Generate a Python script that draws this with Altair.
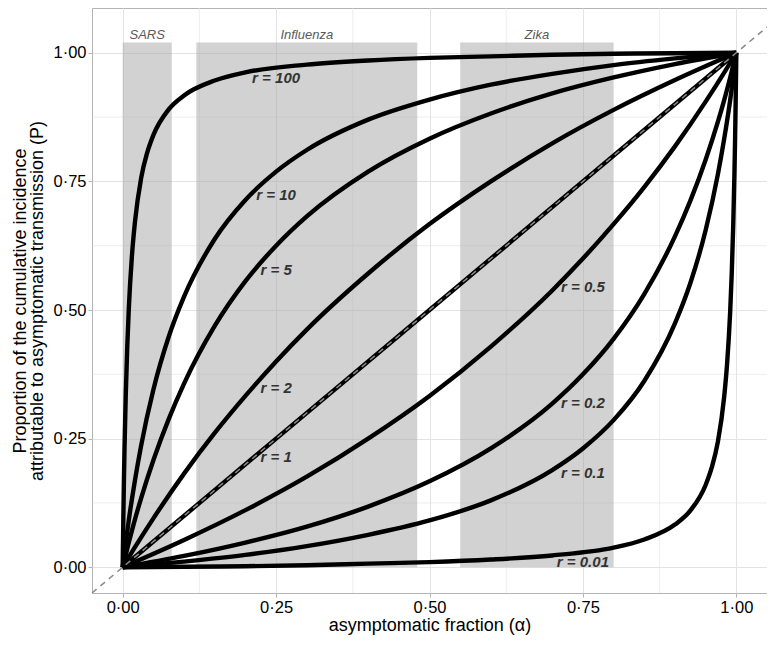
import altair as alt
import pandas as pd

# ---- curves ----
r100_a = [0, 0.001, 0.002, 0.003, 0.005, 0.0075, 0.01, 0.015, 0.02, 0.03, 0.04, 0.05, 0.075, 0.1, 0.15, 0.2, 0.3, 0.4, 0.5, 0.6, 0.7, 0.8, 0.9, 1]
r100_p = [0, 0.091, 0.167, 0.231, 0.334, 0.430, 0.503, 0.604, 0.671, 0.756, 0.806, 0.840, 0.890, 0.917, 0.946, 0.962, 0.977, 0.985, 0.990, 0.993, 0.996, 0.998, 0.999, 1]
r10_a = [0, 0.005, 0.01, 0.02, 0.03, 0.05, 0.075, 0.1, 0.15, 0.2, 0.25, 0.3, 0.4, 0.5, 0.6, 0.7, 0.8, 0.9, 1]
r10_p = [0, 0.048, 0.092, 0.169, 0.236, 0.345, 0.448, 0.526, 0.638, 0.714, 0.769, 0.811, 0.870, 0.909, 0.938, 0.959, 0.976, 0.989, 1]
r5_a = [0, 0.01, 0.02, 0.03, 0.05, 0.075, 0.1, 0.15, 0.2, 0.25, 0.3, 0.4, 0.5, 0.6, 0.7, 0.8, 0.9, 1]
r5_p = [0, 0.048, 0.093, 0.134, 0.208, 0.288, 0.357, 0.469, 0.556, 0.625, 0.682, 0.769, 0.833, 0.882, 0.921, 0.952, 0.978, 1]
r2_a = [0, 0.02, 0.05, 0.1, 0.15, 0.2, 0.25, 0.3, 0.4, 0.5, 0.6, 0.7, 0.8, 0.9, 1]
r2_p = [0, 0.039, 0.095, 0.182, 0.261, 0.333, 0.400, 0.462, 0.571, 0.667, 0.750, 0.824, 0.889, 0.947, 1]
r1_a = [0, 0.25, 0.5, 0.75, 1]
r1_p = [0, 0.25, 0.5, 0.75, 1]
r05_a = [0, 0.1, 0.2, 0.3, 0.4, 0.5, 0.6, 0.7, 0.75, 0.8, 0.85, 0.9, 0.95, 0.98, 1]
r05_p = [0, 0.053, 0.111, 0.176, 0.250, 0.333, 0.429, 0.538, 0.600, 0.667, 0.739, 0.818, 0.905, 0.961, 1]
r02_a = [0, 0.1, 0.2, 0.3, 0.4, 0.5, 0.6, 0.7, 0.75, 0.8, 0.85, 0.9, 0.925, 0.95, 0.97, 0.98, 0.99, 1]
r02_p = [0, 0.022, 0.048, 0.079, 0.118, 0.167, 0.231, 0.318, 0.375, 0.444, 0.531, 0.643, 0.712, 0.792, 0.866, 0.907, 0.952, 1]
r01_a = [0, 0.1, 0.2, 0.3, 0.4, 0.5, 0.6, 0.7, 0.75, 0.8, 0.85, 0.9, 0.925, 0.95, 0.97, 0.98, 0.99, 0.995, 1]
r01_p = [0, 0.011, 0.024, 0.041, 0.063, 0.091, 0.130, 0.189, 0.231, 0.286, 0.362, 0.474, 0.552, 0.655, 0.764, 0.831, 0.908, 0.952, 1]
r001_a = [0, 0.1, 0.2, 0.3, 0.4, 0.5, 0.6, 0.7, 0.8, 0.85, 0.9, 0.925, 0.95, 0.96, 0.97, 0.98, 0.985, 0.99, 0.9925, 0.995, 0.997, 0.998, 0.999, 1]
r001_p = [0, 0.001, 0.002, 0.004, 0.007, 0.010, 0.015, 0.023, 0.038, 0.054, 0.083, 0.110, 0.160, 0.194, 0.244, 0.329, 0.396, 0.497, 0.570, 0.666, 0.769, 0.833, 0.909, 1]

curves = {
    "100": (r100_a, r100_p), "10": (r10_a, r10_p), "5": (r5_a, r5_p),
    "2": (r2_a, r2_p), "1": (r1_a, r1_p), "0.5": (r05_a, r05_p),
    "0.2": (r02_a, r02_p), "0.1": (r01_a, r01_p), "0.01": (r001_a, r001_p),
}

# ---- curve labels ----
lab_text = ["r = 100", "r = 10", "r = 5", "r = 2", "r = 1", "r = 0.5", "r = 0.2", "r = 0.1", "r = 0.01"]
lab_x = [0.25, 0.25, 0.25, 0.25, 0.25, 0.75, 0.75, 0.75, 0.75]
lab_y = [0.950, 0.723, 0.577, 0.348, 0.214, 0.544, 0.319, 0.184, 0.010]

# ---- disease bands ----
band_name = ["SARS", "Influenza", "Zika"]
band_x1 = [0.0, 0.12, 0.55]
band_x2 = [0.08, 0.48, 0.80]
band_y1 = [0, 0, 0]
band_y2 = [1.02, 1.02, 1.02]
band_label_x = [0.04, 0.30, 0.675]
band_label_y = [1.035, 1.035, 1.035]

# ---- axes ----
tick_vals = [0, 0.25, 0.5, 0.75, 1]
minor_vals = [0.125, 0.375, 0.625, 0.875]
x_dom = [-0.05, 1.05]
y_dom = [-0.05, 1.087]
diag = [-0.05, 1.05]

rows = []
for r, (a_list, p_list) in curves.items():
    for a, p in zip(a_list, p_list):
        rows.append({"r": r, "alpha": a, "P": p})
curve_df = pd.DataFrame(rows)
lab_df = pd.DataFrame({"t": lab_text, "x": lab_x, "y": lab_y})
band_df = pd.DataFrame({"name": band_name, "x1": band_x1, "x2": band_x2, "y1": band_y1, "y2": band_y2,
                        "lx": band_label_x, "ly": band_label_y})
minor_df = pd.DataFrame({"v": minor_vals})
diag_df = pd.DataFrame({"x": [diag[0]], "x2": [diag[1]], "y": [diag[0]], "y2": [diag[1]]})

lab_expr = "replace(format(datum.value, '.2f'), '.', '·')"
FONT = "Liberation Sans"

xs = alt.Scale(domain=x_dom, nice=False, zero=False)
ys = alt.Scale(domain=y_dom, nice=False, zero=False)

x_axis = alt.Axis(values=tick_vals, labelExpr=lab_expr, title="asymptomatic fraction (α)",
                  grid=True, gridColor="#e3e3e3", gridWidth=1, domain=False,
                  tickColor="#b3b3b3", tickSize=4, labelFontSize=16.5, labelColor="black",
                  labelFont=FONT, titleFont=FONT, titleFontSize=18, titleFontWeight="normal",
                  titleColor="black", labelPadding=2, titlePadding=1)
y_axis = alt.Axis(values=tick_vals, labelExpr=lab_expr,
                  title=["Proportion of the cumulative incidence", "attributable to asymptomatic transmission (P)"],
                  grid=True, gridColor="#e3e3e3", gridWidth=1, domain=False,
                  tickColor="#b3b3b3", tickSize=4, labelFontSize=16.5, labelColor="black",
                  labelFont=FONT, titleFont=FONT, titleFontSize=18, titleFontWeight="normal",
                  titleColor="black", labelPadding=2, titlePadding=6, titleLineHeight=17)

base = alt.Chart(curve_df)

minor_x = alt.Chart(minor_df).mark_rule(color="#e3e3e3", strokeWidth=0.6).encode(
    x=alt.X("v:Q", scale=xs, axis=x_axis))
minor_y = alt.Chart(minor_df).mark_rule(color="#e3e3e3", strokeWidth=0.6).encode(
    y=alt.Y("v:Q", scale=ys, axis=y_axis))

bands = alt.Chart(band_df).mark_rect(fill="#a6a6a6", opacity=0.5).encode(
    x="x1:Q", x2="x2:Q", y="y1:Q", y2="y2:Q")
band_text = alt.Chart(band_df).mark_text(font=FONT, fontSize=13, fontStyle="italic", color="#5a5a5a").encode(
    x="lx:Q", y="ly:Q", text="name:N")

lines = base.mark_line(color="black", strokeWidth=4.4, interpolate="monotone").encode(
    x="alpha:Q", y="P:Q", detail="r:N", order="alpha:Q")

diag_line = alt.Chart(diag_df).mark_rule(color="#8a8a8a", strokeWidth=1.5, strokeDash=[6, 5]).encode(
    x="x:Q", x2="x2:Q", y="y:Q", y2="y2:Q")

labels = alt.Chart(lab_df).mark_text(font=FONT, fontSize=15, fontStyle="italic", fontWeight="bold",
                                     color="#333333").encode(x="x:Q", y="y:Q", text="t:N")

chart = alt.layer(minor_x, minor_y, bands, band_text, lines, diag_line, labels).properties(
    width=675, height=585,
    autosize=alt.AutoSizeParams(type="none"),
    padding={"left": 84, "top": 0, "right": 0, "bottom": 44},
).configure_view(stroke="#b3b3b3", strokeWidth=1).configure_axis(labelFont=FONT)

chart.save("out.html", embed_options={"renderer": "svg", "actions": False})
